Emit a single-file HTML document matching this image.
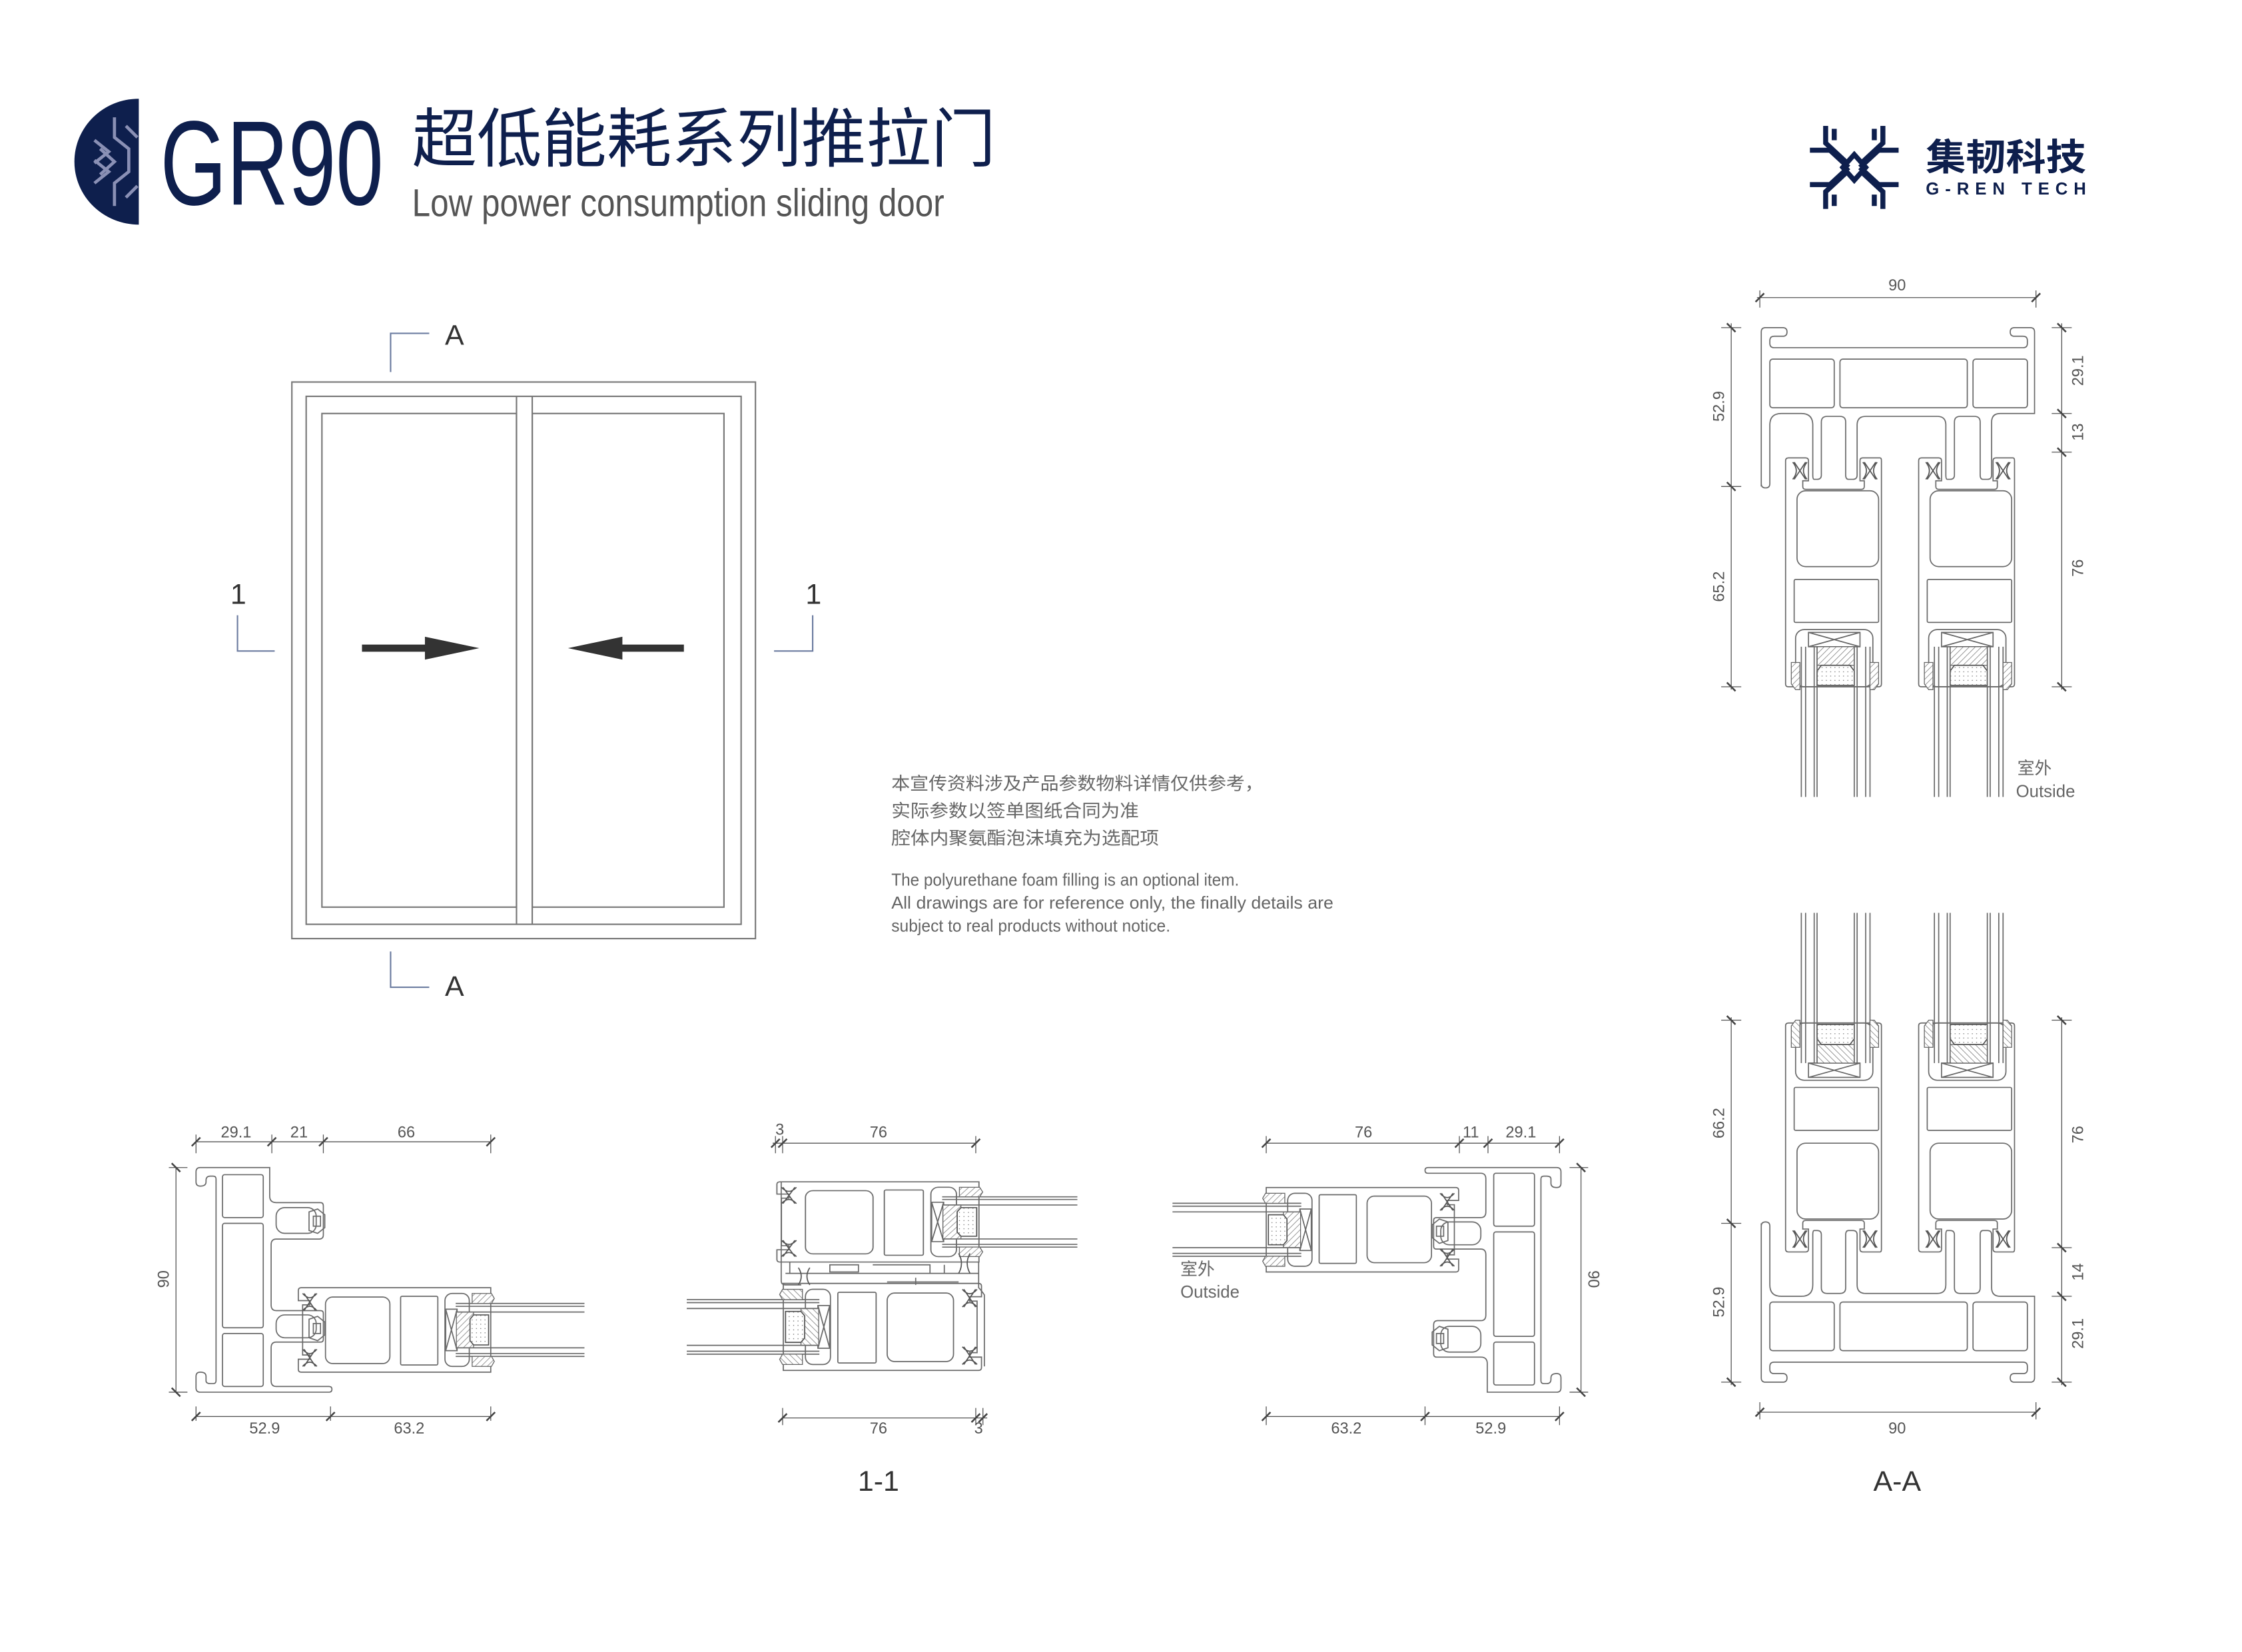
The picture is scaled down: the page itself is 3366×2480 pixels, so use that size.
<!DOCTYPE html>
<html><head><meta charset="utf-8">
<style>
html,body{margin:0;padding:0;background:#fff;}
svg{display:block;}
.t{font-family:"Liberation Sans","Noto Sans CJK SC",sans-serif;}
.ln{fill:none;stroke:#6a6a6a;stroke-width:0.8;}
.dm{fill:none;stroke:#555;stroke-width:0.6;}
.tk{stroke:#444;stroke-width:1.2;}
.dt{font-family:"Liberation Sans",sans-serif;font-size:11px;fill:#555;text-anchor:middle;}
</style></head>
<body>
<svg width="3366" height="2480" viewBox="0 0 1567 1154.6" preserveAspectRatio="none" xmlns="http://www.w3.org/2000/svg">
<defs>
<pattern id="hat" width="3" height="3" patternUnits="userSpaceOnUse" patternTransform="rotate(45)">
<rect width="3" height="3" fill="#fff"/><line x1="0" y1="0" x2="0" y2="3" stroke="#777" stroke-width="0.7"/>
</pattern>
<pattern id="dot" width="3" height="3" patternUnits="userSpaceOnUse">
<rect width="3" height="3" fill="#fff"/><circle cx="1.5" cy="1.5" r="0.35" fill="#777"/>
</pattern>
<g id="sashR">
<path class="ln" d="M0,2 Q0,0 2,0 H134.5 V59 H2 Q0,59 0,57 V50 H8 V47 H3 V12 H8 V9 H0 Z"/>
<rect class="ln" x="19" y="6.5" width="45" height="46.5" rx="5"/>
<rect class="ln" x="71.5" y="6" width="26" height="48" rx="1"/>
<rect class="ln" x="102.5" y="4" width="17" height="51" rx="5"/>
<path class="ln" d="M103,15 H111 V44 H103 Z M103,15 L111,44 M111,15 L103,44"/>
<rect x="110.5" y="17" width="12" height="25" fill="url(#hat)" stroke="#666" stroke-width="0.6"/>
<path d="M122.5,19 H133 V40 H122.5 L120,37 V22 Z" fill="url(#dot)" stroke="#555" stroke-width="0.8"/>
<path class="ln" d="M110,11 H200 M110,13 H200 M110,17 H200 M110,42 H200 M110,46 H200 M110,48 H200"/>
<path d="M121.5,4 H135 L137,7.5 L135,11 H121.5 Z M121.5,48 H135 L137,51.5 L135,55 H121.5 Z" fill="url(#hat)" stroke="#666" stroke-width="0.6"/>
<path d="M3,4 Q8,10 13,4 M3,16 Q8,10 13,16 M4,4 L12,16 M12,4 L4,16 M3,43 Q8,49 13,43 M3,55 Q8,49 13,55 M4,43 L12,55 M12,43 L4,55" fill="none" stroke="#555" stroke-width="0.8"/>
</g>
<g id="jamb">
<path class="ln" d="M137,819 Q137,816 140,816 H188.5 V836 Q188.5,840.5 193,840.5 H224 Q226,840.5 226,843 V863 Q226,866 223,866 H193 Q189.5,866 189.5,870 V912 Q189.5,916 193,916 H224 Q226,916 226,918 V936 Q226,938 224,938 H193 Q189.5,938 189.5,942 V965 Q189.5,969 193,969 H230 Q232,969 232,971 Q232,973 230,973 H140 Q137,973 137,970 V962 Q137,959 140,959 Q144,959 144,962 V965 Q144,967 147,967 H149 Q151,967 151,965 V824 Q151,822 149,822 H147 Q144,822 144,825 V826 Q144,829 140,829 Q137,829 137,826 Z"/>
<rect class="ln" x="155.5" y="821" width="28.5" height="30" rx="1.5"/>
<rect class="ln" x="155.5" y="855" width="28.5" height="73" rx="1.5"/>
<rect class="ln" x="155.5" y="932" width="28.5" height="37" rx="1.5"/>
<rect class="ln" x="193" y="844" width="28" height="18" rx="6"/>
<rect class="ln" x="193" y="919" width="28" height="16" rx="6"/>
<path class="ln" d="M216,847 L222,845 L227,849 V858 L222,862 L216,860 Z M219,850 H224 V857 H219 Z M216,922 L222,920 L227,924 V933 L222,937 L216,935 Z M219,925 H224 V932 H219 Z"/>
</g>
<g id="aa">
<path class="ln" d="M1231,340 V232 Q1231,229 1234,229 H1246 Q1249,229 1249,232 Q1249,235 1246,235 H1240 Q1237,235 1237,238 V240 Q1237,243 1240,243 H1414 Q1417,243 1417,240 V238 Q1417,235 1414,235 H1408 Q1405,235 1405,232 Q1405,229 1408,229 H1419 Q1422,229 1422,232 V289 H1398 Q1392,289 1392,295 V332 Q1392,335 1389,335 H1386 Q1384,335 1384,332 V295 Q1384,291 1380,291 H1370 Q1366,291 1366,295 V332 Q1366,335 1363,335 H1361 Q1360,335 1360,332 V297 Q1360,291 1354,291 H1304 Q1298,291 1298,297 V332 Q1298,335 1295,335 H1292 Q1290,335 1290,332 V295 Q1290,291 1286,291 H1277 Q1273,291 1273,295 V332 Q1273,335 1270,335 H1268 Q1267,335 1267,332 V297 Q1267,289 1259,289 H1245 Q1237,289 1237,297 V338 Q1237,341 1234,341 Q1231,341 1231,338"/>
<rect class="ln" x="1237" y="251" width="45" height="34" rx="2"/>
<rect class="ln" x="1286" y="251" width="89" height="34" rx="2"/>
<rect class="ln" x="1379" y="251" width="38" height="34" rx="2"/>
<g id="aas">
<path class="ln" d="M1250,320 H1262 Q1264,320 1264,322 V336 H1260 V340 Q1260,342 1262,342 H1301 Q1303,342 1303,340 V336 H1300 V322 Q1300,320 1302,320 H1314 Q1315,320 1315,322 V478 Q1315,480 1313,480 H1250 Q1248,480 1248,478 V322 Q1248,320 1250,320 Z"/>
<rect class="ln" x="1256" y="343" width="57" height="53" rx="6"/>
<rect class="ln" x="1254" y="405" width="59" height="30" rx="1"/>
<rect class="ln" x="1255" y="440" width="54" height="40" rx="6"/>
<path class="ln" d="M1264,442 H1300 V452 H1264 Z M1264,442 L1300,452 M1300,442 L1264,452"/>
<rect x="1270" y="452" width="26" height="13" fill="url(#hat)" stroke="#666" stroke-width="0.6"/>
<path d="M1273,465 H1293 L1296,469 V479 H1270 V469 Z" fill="url(#dot)" stroke="#555" stroke-width="0.8"/>
<path class="ln" d="M1259,452 V557 M1262,452 V557 M1268,452 V557 M1270,452 V557 M1296,452 V557 M1298,452 V557 M1304,452 V557 M1307,452 V557"/>
<path d="M1252,463 H1258 V482 H1255 L1252,478 Z M1307,463 H1313 V478 L1310,482 H1307 Z" fill="url(#hat)" stroke="#666" stroke-width="0.6"/>
<path d="M1253,323 Q1258,329 1253,335 M1263,323 Q1258,329 1263,335 M1254,323 L1262,335 M1262,323 L1254,335 M1302,323 Q1307,329 1302,335 M1312,323 Q1307,329 1312,335 M1303,323 L1311,335 M1311,323 L1303,335" fill="none" stroke="#555" stroke-width="0.8"/>
</g>
<use href="#aas" transform="translate(93,0)"/>
</g>
</defs>

<path d="M97,69 V157 A45,44 0 0 1 97,69 Z" fill="#0e1f4d"/>
<g fill="none" stroke="#8a90b5" stroke-width="2.2">
<path d="M80,82 V96 L90,104 V120 L80,128 V144"/>
<path d="M66,98 L76,106 L66,114 M66,112 L76,120 L66,128"/>
<path d="M88,88 L96,96 M88,138 L96,130 M70,104 L80,113 L70,122"/>
</g>
<text class="t" x="112" y="143" font-size="84" fill="#0e1f4d" textLength="156" lengthAdjust="spacingAndGlyphs">GR90</text>
<text class="t" x="288" y="113" font-size="45" fill="#0e1f4d" textLength="408" lengthAdjust="spacingAndGlyphs">超低能耗系列推拉门</text>
<text class="t" x="288" y="151" font-size="27" fill="#555" textLength="372" lengthAdjust="spacingAndGlyphs">Low power consumption sliding door</text>

<g fill="none" stroke="#0e1f4d" stroke-width="3.5">
<path d="M1276,88 V100 L1290,113 M1316,88 V100 L1302,113 M1276,146 V134 L1290,121 M1316,146 V134 L1302,121"/>
<path d="M1265,105 H1279 L1292,117 M1327,105 H1313 L1300,117 M1265,129 H1279 L1292,117 M1327,129 H1313 L1300,117"/>
<path d="M1282,90 V98 M1310,90 V98 M1282,144 V136 M1310,144 V136"/>
<path d="M1296,108 L1304,117 L1296,126 L1288,117 Z"/>
</g>
<text class="t" x="1346" y="119" font-size="26" font-weight="bold" fill="#0e1f4d" textLength="112" lengthAdjust="spacingAndGlyphs">集韧科技</text>
<text class="t" x="1346" y="136" font-size="12" font-weight="bold" fill="#0e1f4d" textLength="112" lengthAdjust="spacing">G-REN TECH</text>

<g fill="none" stroke="#777" stroke-width="1">
<rect x="204" y="267" width="324" height="389"/>
<rect x="214" y="277" width="304" height="369"/>
<rect x="225" y="289" width="136" height="345"/>
<rect x="372" y="289" width="134" height="345"/>
<path d="M361,277 V646 M372,277 V646"/>
</g>
<g fill="#333">
<rect x="253" y="450.5" width="50" height="5"/><path d="M297,445 L335,453 L297,461 Z"/>
<rect x="428" y="450.5" width="50" height="5"/><path d="M435,445 L397,453 L435,461 Z"/>
</g>
<g fill="none" stroke="#6c7ca0" stroke-width="1">
<path d="M273,260 V233 H300 M273,665 V690 H300 M166,430 V455 H192 M568,430 V455 H541"/>
</g>
<g class="t" font-size="20" fill="#333">
<text x="311" y="241">A</text><text x="311" y="696">A</text>
<text x="161" y="422">1</text><text x="563" y="422">1</text>
</g>

<g class="t" font-size="12.5" fill="#666">
<text x="623" y="552" textLength="260" lengthAdjust="spacingAndGlyphs">本宣传资料涉及产品参数物料详情仅供参考，</text>
<text x="623" y="571" textLength="173" lengthAdjust="spacingAndGlyphs">实际参数以签单图纸合同为准</text>
<text x="623" y="590" textLength="187" lengthAdjust="spacingAndGlyphs">腔体内聚氨酯泡沫填充为选配项</text>
<text x="623" y="619" font-size="12" textLength="243" lengthAdjust="spacingAndGlyphs">The polyurethane foam filling is an optional item.</text>
<text x="623" y="635" font-size="12" textLength="309" lengthAdjust="spacingAndGlyphs">All drawings are for reference only, the finally details are</text>
<text x="623" y="651" font-size="12" textLength="195" lengthAdjust="spacingAndGlyphs">subject to real products without notice.</text>
</g>

<use href="#jamb"/>
<use href="#sashR" transform="translate(208.5,900)"/>
<g>
<path class="dm" d="M137,798 H343 M137,793 V806 M190,793 V806 M226,793 V806 M343,793 V806 M137,990 H343 M137,983 V993 M231,983 V993 M343,983 V993 M123,816 V973 M118,816 H131 M118,973 H131"/>
<path class="tk" d="M134,801 L140,795 M187,801 L193,795 M223,801 L229,795 M340,801 L346,795 M134,993 L140,987 M228,993 L234,987 M340,993 L346,987 M120,813 L126,819 M120,970 L126,976"/>
<text class="dt" x="165" y="795">29.1</text><text class="dt" x="209" y="795">21</text><text class="dt" x="284" y="795">66</text>
<text class="dt" x="185" y="1002">52.9</text><text class="dt" x="286" y="1002">63.2</text>
<text class="dt" transform="translate(118,894) rotate(-90)">90</text>
</g>

<use href="#sashR" transform="translate(543,826) scale(1.05,0.95)"/>
<use href="#sashR" transform="translate(686,897) scale(-1.03,1.03)"/>
<g class="ln">
<path d="M546,826 V895 Q546,898 549,898 H560 M549,890 H684 M552,882 V890 M580,884 H600 V889 H580 Z M610,884 H650 V890 M660,884 V890 M684,882 V900 Q686,902 688,905 V955 M620,896 H670 M640,893 V898"/>
<path d="M558,886 Q562,892 558,898 M566,886 Q562,892 566,898 M670,876 Q674,883 670,890 M678,876 Q674,883 678,890" stroke="#555"/>
</g>
<g>
<path class="dm" d="M540,799 H682 M542,794 V806 M547,794 V806 M682,794 V806 M547,991 H690 M547,984 V996 M682,984 V996 M687,984 V996"/>
<path class="tk" d="M539,802 L545,796 M544,802 L550,796 M679,802 L685,796 M544,994 L550,988 M679,994 L685,988 M684,994 L690,988"/>
<text class="dt" x="545" y="793" font-size="10">3</text><text class="dt" x="614" y="795">76</text>
<text class="dt" x="614" y="1002">76</text><text class="dt" x="684" y="1002" font-size="10">3</text>
<text class="t" x="614" y="1042" font-size="20" fill="#333" text-anchor="middle">1-1</text>
</g>

<use href="#jamb" transform="rotate(180 614 894.5)"/>
<use href="#sashR" transform="rotate(180 614 894.5) translate(208.5,900)"/>
<g>
<path class="dm" d="M885,799 H1090 M885,794 V806 M1020,794 V806 M1040,794 V806 M1090,794 V806 M885,990 H1090 M885,983 V996 M996,983 V996 M1090,983 V996 M1105,816 V973 M1097,816 H1110 M1097,973 H1110"/>
<path class="tk" d="M882,802 L888,796 M1017,802 L1023,796 M1037,802 L1043,796 M1087,802 L1093,796 M882,993 L888,987 M993,993 L999,987 M1087,993 L1093,987 M1102,813 L1108,819 M1102,970 L1108,976"/>
<text class="dt" x="953" y="795">76</text><text class="dt" x="1028" y="795">11</text><text class="dt" x="1063" y="795">29.1</text>
<text class="dt" x="941" y="1002">63.2</text><text class="dt" x="1042" y="1002">52.9</text>
<text class="dt" transform="translate(1110,894) rotate(90)">90</text>
<text class="t" x="825" y="891" font-size="12" fill="#666">室外</text>
<text class="t" x="825" y="907" font-size="12" fill="#666">Outside</text>
</g>

<use href="#aa"/>
<use href="#aa" transform="translate(0,1195) scale(1,-1)"/>
<g>
<path class="dm" d="M1228,208 H1423 M1230,203 V215 M1423,203 V215 M1210,226 V482 M1203,229 H1217 M1203,340 H1217 M1203,480 H1217 M1441,226 V482 M1434,229 H1448 M1434,289 H1448 M1434,316 H1448 M1434,480 H1448"/>
<path class="tk" d="M1227,211 L1233,205 M1420,211 L1426,205 M1207,226 L1213,232 M1207,337 L1213,343 M1207,477 L1213,483 M1438,226 L1444,232 M1438,286 L1444,292 M1438,313 L1444,319 M1438,477 L1444,483"/>
<text class="dt" x="1326" y="203" font-size="13">90</text>
<text class="dt" transform="translate(1205,284) rotate(-90)">52.9</text>
<text class="dt" transform="translate(1205,410) rotate(-90)">65.2</text>
<text class="dt" transform="translate(1456,259) rotate(-90)">29.1</text>
<text class="dt" transform="translate(1456,302) rotate(-90)">13</text>
<text class="dt" transform="translate(1456,397) rotate(-90)">76</text>
<text class="t" x="1410" y="541" font-size="12" fill="#666">室外</text>
<text class="t" x="1409" y="557" font-size="12" fill="#666">Outside</text>

<path class="dm" d="M1228,987 H1423 M1230,980 V992 M1423,980 V992 M1210,711 V968 M1203,713 H1217 M1203,855 H1217 M1203,966 H1217 M1441,711 V968 M1434,713 H1448 M1434,872 H1448 M1434,906 H1448 M1434,966 H1448"/>
<path class="tk" d="M1227,990 L1233,984 M1420,990 L1426,984 M1207,710 L1213,716 M1207,852 L1213,858 M1207,963 L1213,969 M1438,710 L1444,716 M1438,869 L1444,875 M1438,903 L1444,909 M1438,963 L1444,969"/>
<text class="dt" x="1326" y="1002" font-size="13">90</text>
<text class="dt" transform="translate(1205,785) rotate(-90)">66.2</text>
<text class="dt" transform="translate(1205,910) rotate(-90)">52.9</text>
<text class="dt" transform="translate(1456,793) rotate(-90)">76</text>
<text class="dt" transform="translate(1456,889) rotate(-90)">14</text>
<text class="dt" transform="translate(1456,932) rotate(-90)">29.1</text>
<text class="t" x="1326" y="1042" font-size="20" fill="#333" text-anchor="middle">A-A</text>
</g>
</svg>
</body></html>
